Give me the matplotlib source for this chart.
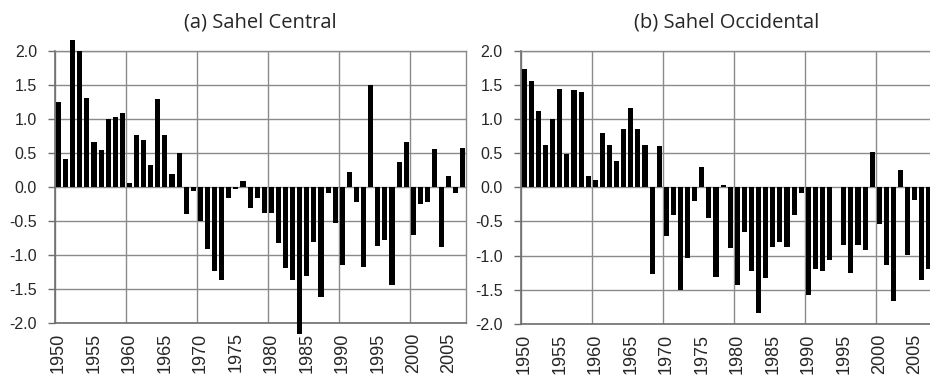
import numpy as np
import matplotlib.pyplot as plt

years = list(range(1950, 2008))
central = [1.25, 0.40, 2.16, 2.00, 1.31, 0.65, 0.54, 1.00, 1.03, 1.09,
           0.05, 0.76, 0.68, 0.32, 1.29, 0.76, 0.19, 0.49, -0.40, -0.07,
           -0.51, -0.92, -1.24, -1.37, -0.16, -0.04, 0.09, -0.31, -0.17, -0.39,
           -0.39, -0.83, -1.20, -1.37, -2.17, -1.31, -0.82, -1.62, -0.10, -0.53,
           -1.15, 0.21, -0.22, -1.18, 1.49, -0.87, -0.78, -1.45, 0.36, 0.65,
           -0.71, -0.25, -0.22, 0.56, -0.88, 0.16, -0.09, 0.57]
occidental = [1.73, 1.55, 1.12, 0.62, 1.00, 1.44, 0.49, 1.42, 1.40, 0.16,
              0.11, 0.80, 0.62, 0.38, 0.85, 1.16, 0.85, 0.62, -1.27, 0.60,
              -0.71, -0.40, -1.51, -1.03, -0.20, 0.29, -0.45, -1.32, 0.04, -0.89,
              -1.43, -0.65, -1.22, -1.84, -1.33, -0.88, -0.80, -0.87, -0.40, -0.09,
              -1.58, -1.19, -1.22, -1.06, 0.0, -0.84, -1.25, -0.84, -0.92, 0.51,
              -0.54, -1.14, -1.67, 0.26, -0.99, -0.19, -1.36, -1.19]
tick_years = list(range(1950, 2008, 5))
titles = ["(a) Sahel Central", "(b) Sahel Occidental"]

GRID = "#8a8a8a"
AXIS = "#6e6e6e"
TEXT = "#262626"


def panel(ax, values, title):
    x = np.arange(len(years))
    ax.bar(x, values, width=0.72, color="black", clip_on=False, zorder=3)
    ax.set_xlim(-0.5, len(years) - 0.5)
    ax.set_ylim(-2.0, 2.0)

    yt = np.arange(-2.0, 2.01, 0.5)
    ax.set_yticks(yt)
    ax.set_yticklabels([f"{v:.1f}" for v in yt],
                       family="Liberation Sans", fontsize=11.5, color=TEXT)
    ax.set_xticks([years.index(y) for y in tick_years])
    ax.set_xticklabels([str(y) for y in tick_years], rotation=90,
                       family="Liberation Sans", fontsize=13, color=TEXT)
    ax.set_xticks(np.arange(-0.5, len(years), 10), minor=True)

    ax.tick_params(axis="y", length=5, width=1, color=AXIS, pad=8)
    ax.tick_params(axis="x", which="both", length=0, pad=7)
    ax.grid(axis="y", color=GRID, linewidth=1.0, zorder=0)
    ax.grid(axis="x", which="minor", color=GRID, linewidth=1.0, zorder=0)
    ax.set_axisbelow(True)

    for side in ["left", "bottom"]:
        ax.spines[side].set_color(AXIS)
        ax.spines[side].set_linewidth(1.2)
    for side in ["top", "right"]:
        ax.spines[side].set_color(GRID)
        ax.spines[side].set_linewidth(1.0)

    ax.set_title(title, family="Open Sans", fontsize=14.5, color=TEXT, pad=17)


fig = plt.figure(figsize=(9.3, 3.75), dpi=100)
ax1 = fig.add_axes([0.0591, 0.1395, 0.4425, 0.7253])
ax2 = fig.add_axes([0.5599, 0.1363, 0.4428, 0.7285])

panel(ax1, central, titles[0])
panel(ax2, occidental, titles[1])

fig.savefig("out.png", dpi=100)
